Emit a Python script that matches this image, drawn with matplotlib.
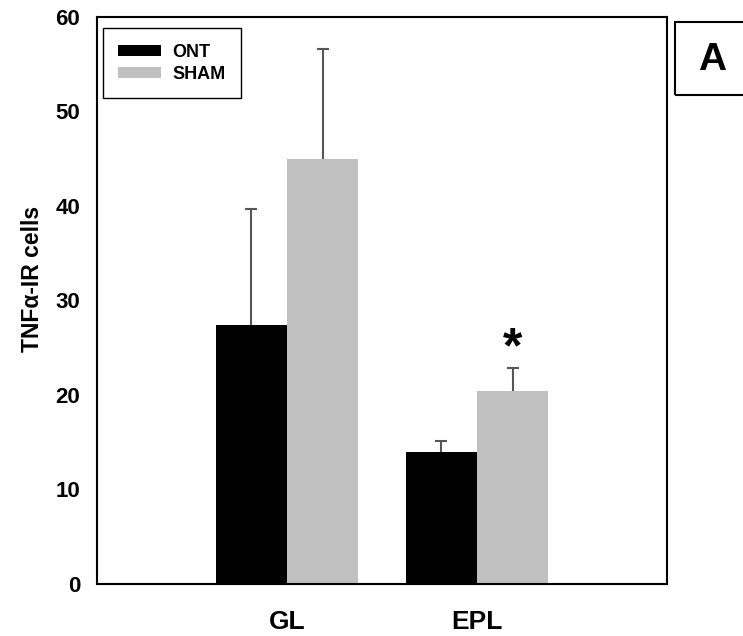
import matplotlib
matplotlib.use('Agg')
import matplotlib.pyplot as plt
import matplotlib.patches as mpatches
import numpy as np

plt.rcParams['font.family'] = ['Liberation Sans', 'DejaVu Sans']
plt.rcParams['font.weight'] = 'bold'

regions = ['GL', 'EPL']
ont_mean = [27.4, 14.0]
ont_err = [12.3, 1.1]
sham_mean = [45.0, 20.4]
sham_err = [11.6, 2.5]
ytick_vals = [0, 10, 20, 30, 40, 50, 60]

fig = plt.figure(figsize=(7.43, 6.36), dpi=100)
ax = fig.add_axes([0.1306, 0.0818, 0.7671, 0.8915])

x = np.arange(len(regions))
w = 0.375
err_kw = dict(ecolor='#555555', elinewidth=1.5, capsize=4.5, capthick=1.5)
b1 = ax.bar(x - w / 2, ont_mean, w, color='black', label='ONT',
            yerr=[np.zeros(2), ont_err], error_kw=err_kw)
b2 = ax.bar(x + w / 2, sham_mean, w, color='#c0c0c0', label='SHAM',
            yerr=[np.zeros(2), sham_err], error_kw=err_kw)
# only the upper half of the error bar is shown
for b in (b1, b2):
    caps = b.errorbar.lines[1]
    caps[0].set_visible(False)

# significance marker
ax.text(x[1] + w / 2, sham_mean[1] + sham_err[1] + 1.9, '*', ha='center', va='center',
        fontsize=36, fontweight='bold')

ax.set_xlim(-1.0, 2.0)
ax.set_ylim(0, 60)
ax.set_xticks(x)
ax.set_xticklabels(regions, fontsize=19)
ax.set_yticks(ytick_vals)
ax.set_yticklabels([str(v) for v in ytick_vals], fontsize=16)
ax.tick_params(axis='both', length=0)
ax.tick_params(axis='x', pad=19)
ax.tick_params(axis='y', pad=12)
ax.set_ylabel('TNFα-IR cells', fontsize=16.5, fontweight='bold')
ax.yaxis.set_label_coords(-0.093, 0.538)
for s in ax.spines.values():
    s.set_linewidth(1.5)

leg = ax.legend(loc='upper left', bbox_to_anchor=(0.01, 0.98), fontsize=13,
                fancybox=False, edgecolor='black', framealpha=1,
                handlelength=2.4, handleheight=0.6, borderpad=0.85, labelspacing=0.3,
                handletextpad=0.6, borderaxespad=0)
leg.get_frame().set_linewidth(1.0)

# panel label box
box = mpatches.Rectangle((675 / 743, 1 - 95 / 636), 80 / 743, 73 / 636,
                         transform=fig.transFigure, fill=False, edgecolor='black',
                         linewidth=1.5, clip_on=False)
fig.patches.append(box)
fig.text(712 / 743, 1 - 60 / 636, 'A', ha='center', va='center', fontsize=28, fontweight='bold')

fig.savefig('out.png', dpi=100)
